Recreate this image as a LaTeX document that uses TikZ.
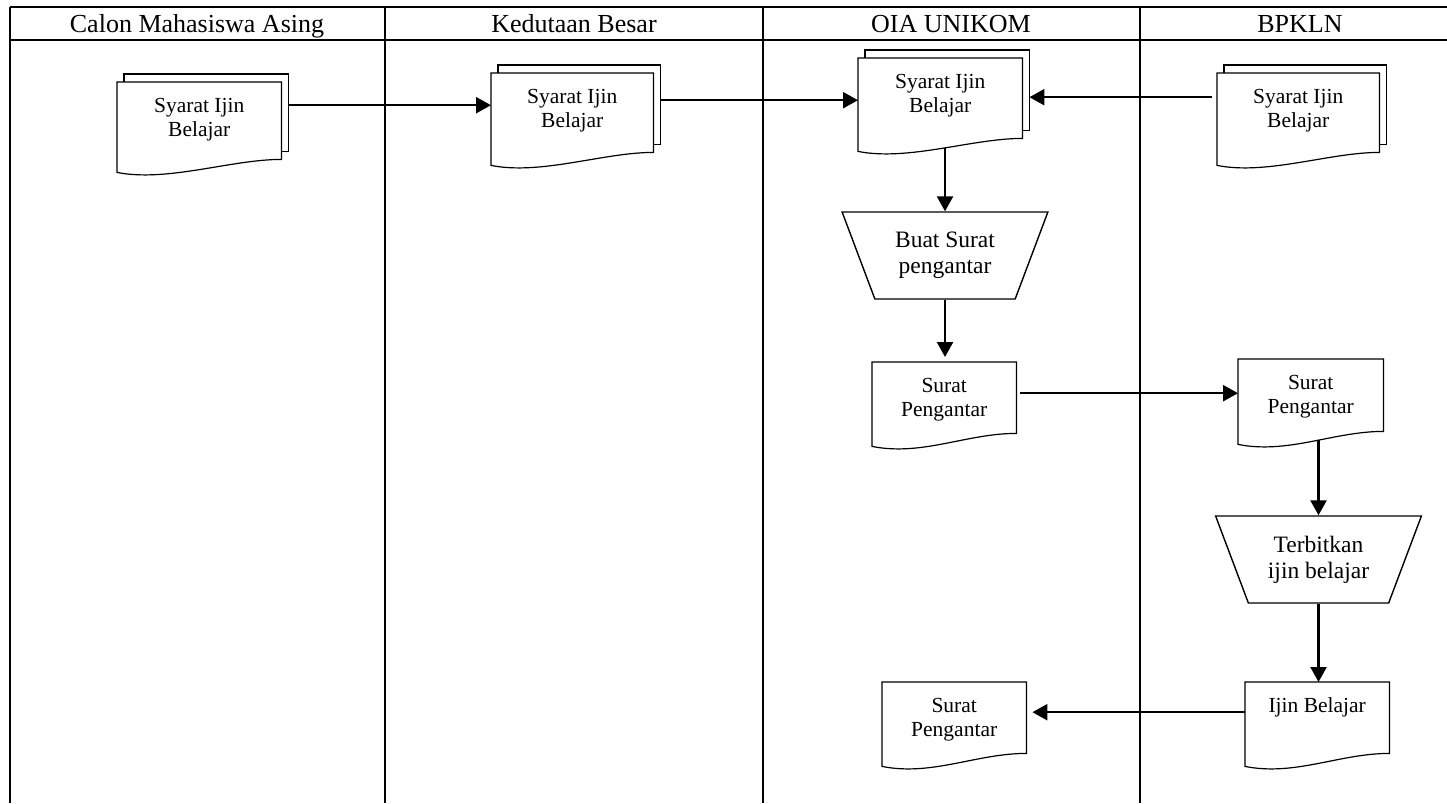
\documentclass[tikz,border=0pt]{standalone}
\usepackage{fontspec}
\setmainfont{Liberation Serif}
\usetikzlibrary{shapes.geometric, arrows.meta}

\pgfdeclarelayer{links}
\pgfdeclarelayer{sheets}
\pgfsetlayers{links,sheets,main}

\newcommand{\doctext}[3]{\parbox[c][#2][t]{#1}{\centering\rule{0pt}{30pt}#3}}

\newcommand{\docoutline}[1]{%
  \begin{pgfonlayer}{sheets}
    \draw [fill = white, line width = 1.2pt] (#1.south east) -- (#1.north east) -- (#1.north west) -- ([yshift = -13pt]#1.south west) .. controls +(50pt, -10pt) and +(-50pt, 0pt) .. (#1.south east) -- cycle;
  \end{pgfonlayer}}

\newcommand{\docstack}[1]{%
  \begin{pgfonlayer}{sheets}
    \draw [fill = white, line width = 1.2pt] ([shift = {(7pt, 8pt)}]#1.north west) rectangle ([shift = {(7pt, 8pt)}]#1.south east);
  \end{pgfonlayer}
  \docoutline{#1}}

\tikzset{
  docnode/.style = {inner sep = 0pt, anchor = north west, font = \fontsize{21.5}{24}\selectfont},
  procnode/.style = {draw, trapezium, trapezium stretches = true, shape border rotate = 180, trapezium angle = 65, minimum width = 206pt, minimum height = 87pt, align = center, line width = 1.4pt, fill = white, font = \fontsize{23.5}{26}\selectfont},
  headnode/.style = {anchor = base, font = \fontsize{26}{30}\selectfont},
  link/.style = {->, > = {Triangle[length = 15pt, width = 16pt]}, line width = 2.4pt},
  lane/.style = {line width = 2pt}
}

\begin{document}
\begin{tikzpicture}
        \useasboundingbox (0pt, 0pt) rectangle (1447pt, -803pt);
        % Lanes
        \draw [lane] (10pt, -7pt) -- (1460pt, -7pt);
        \draw [lane] (10pt, -40pt) -- (1460pt, -40pt);
        \foreach \x in {10, 385, 763, 1140}
          \draw [lane] (\x pt, -7pt) -- (\x pt, -803pt);
        % Headers
        \node [headnode] (hcalon) at (197pt, -32.5pt) {Calon Mahasiswa Asing};
        \node [headnode] (hkedutaan) at (574pt, -32.5pt) {Kedutaan Besar};
        \node [headnode] (hoia) at (951pt, -32.5pt) {OIA UNIKOM};
        \node [headnode] (hbpkln) at (1300pt, -32.5pt) {BPKLN};
        % Documents
        \node [docnode] (calon) at (117pt, -82pt) {\doctext{164pt}{77pt}{Syarat Ijin\\Belajar}};
        \docstack{calon}
        \node [docnode] (kedutaan) at (491pt, -73pt) {\doctext{162pt}{79pt}{Syarat Ijin\\Belajar}};
        \docstack{kedutaan}
        \node [docnode] (oia) at (858pt, -58pt) {\doctext{164pt}{80pt}{Syarat Ijin\\Belajar}};
        \docstack{oia}
        \node [docnode] (bpkln) at (1217pt, -73pt) {\doctext{162pt}{79pt}{Syarat Ijin\\Belajar}};
        \docstack{bpkln}
        \node [docnode] (suratoia) at (872pt, -362pt) {\doctext{144pt}{71pt}{Surat\\Pengantar}};
        \docoutline{suratoia}
        \node [docnode] (suratbpkln) at (1238pt, -359pt) {\doctext{145pt}{72pt}{Surat\\Pengantar}};
        \docoutline{suratbpkln}
        \node [docnode] (ijin) at (1245pt, -682pt) {\doctext{144pt}{71pt}{Ijin Belajar}};
        \docoutline{ijin}
        \node [docnode] (suratakhir) at (882pt, -682pt) {\doctext{144pt}{71pt}{Surat\\Pengantar}};
        \docoutline{suratakhir}
        % Processes
        \node [procnode] (buat) at (945pt, -255.5pt) {Buat Surat\\pengantar};
        \node [procnode] (terbit) at (1318.5pt, -559.5pt) {Terbitkan\\ijin belajar};
        % Draw the links
        \begin{pgfonlayer}{links}
          \draw [link] ([xshift = 7pt, yshift = 15.5pt]calon.east) -- ([yshift = 15.5pt]calon.east -| kedutaan.west);
          \draw [link] ([xshift = 8pt, yshift = 12.5pt]kedutaan.east) -- ([yshift = 12.5pt]kedutaan.east -| oia.west);
          \draw [link] ([xshift = -5pt, yshift = 15.5pt]bpkln.west) -- ([xshift = 7pt, yshift = 15.5pt]bpkln.west -| oia.east);
          \draw [link] (buat.north |- oia.south) -- (buat.north);
          \draw [link] (buat.south) -- ([yshift = 5pt]buat.south |- suratoia.north);
          \draw [link] ([xshift = 4pt, yshift = 4.5pt]suratoia.east) -- ([yshift = 4.5pt]suratoia.east -| suratbpkln.west);
          \draw [link] (terbit.north |- suratbpkln.south) -- (terbit.north);
          \draw [link] (terbit.south) -- (terbit.south |- ijin.north);
          \draw [link] ([yshift = 5.5pt]ijin.west) -- ([xshift = 6pt, yshift = 5.5pt]ijin.west -| suratakhir.east);
        \end{pgfonlayer}
\end{tikzpicture}
\end{document}
